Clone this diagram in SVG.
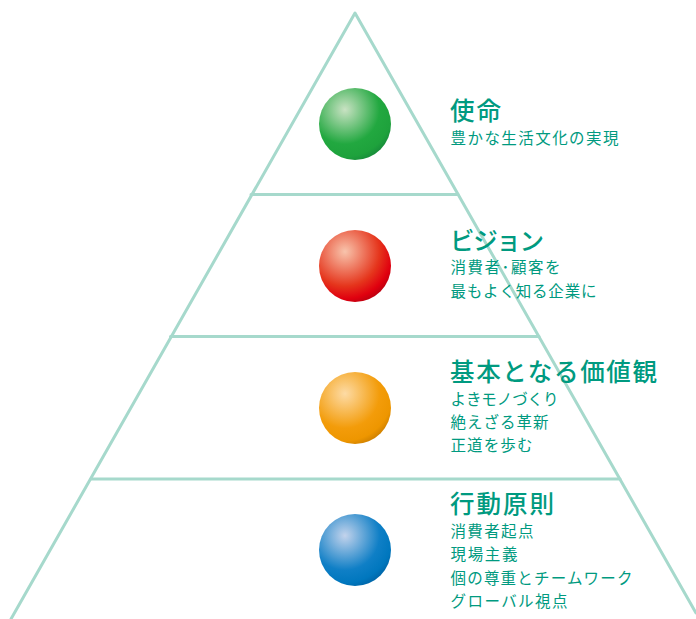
<svg xmlns="http://www.w3.org/2000/svg" width="696" height="619" viewBox="0 0 696 619">
<style>
.ln{fill:none;stroke:#a6d9cc;stroke-width:3;stroke-linecap:round;stroke-linejoin:round}
text{font-family:"Noto Sans CJK JP","Noto Sans",sans-serif;fill:#009a80}
.t{font-size:24.500px;font-weight:500}
.s{font-size:15.500px;font-weight:400}
</style>
<defs>
<radialGradient id="g" cx="0.36" cy="0.3" r="0.8"><stop offset="0" stop-color="#c9e2c3"/><stop offset="0.6" stop-color="#22a840"/><stop offset="0.82" stop-color="#1ea23c"/><stop offset="1" stop-color="#15803a"/></radialGradient>
<radialGradient id="r" cx="0.36" cy="0.3" r="0.8"><stop offset="0" stop-color="#f8c4ac"/><stop offset="0.6" stop-color="#e5351c"/><stop offset="0.82" stop-color="#e0000f"/><stop offset="1" stop-color="#a80010"/></radialGradient>
<radialGradient id="o" cx="0.36" cy="0.3" r="0.8"><stop offset="0" stop-color="#fddba5"/><stop offset="0.6" stop-color="#f39c0a"/><stop offset="0.82" stop-color="#ee9600"/><stop offset="1" stop-color="#bd7400"/></radialGradient>
<radialGradient id="b" cx="0.36" cy="0.3" r="0.8"><stop offset="0" stop-color="#c3d3ec"/><stop offset="0.6" stop-color="#0f7fc6"/><stop offset="0.82" stop-color="#0077be"/><stop offset="1" stop-color="#005c9c"/></radialGradient>
</defs>
<g id="connectors">
<path class="ln" d="M11 619L355 13L696 613"/>
<path class="ln" d="M251 194.500H458M170.500 336.500H539M91 479H620"/>
</g>
<g id="node-mission">
<circle cx="355" cy="124" r="36" fill="url(#g)"/>
<text class="t" x="450" y="119.500" textLength="51">使命</text>
<text class="s" x="450.500" y="143.500" textLength="168">豊かな生活文化の実現</text>
</g>
<g id="node-vision">
<circle cx="355" cy="266" r="36" fill="url(#r)"/>
<text class="t" x="450" y="249.500" textLength="94">ビジョン</text>
<text class="s" x="450.500" y="272.500" textLength="110">消費者･顧客を</text>
<text class="s" x="450.500" y="296.500" textLength="146">最もよく知る企業に</text>
</g>
<g id="node-values">
<circle cx="355" cy="408" r="36" fill="url(#o)"/>
<text class="t" x="450" y="380.500" textLength="207">基本となる価値観</text>
<text class="s" x="450.500" y="404.500" textLength="108">よきモノづくり</text>
<text class="s" x="450.500" y="427.500" textLength="98">絶えざる革新</text>
<text class="s" x="450.500" y="450.500" textLength="82">正道を歩む</text>
</g>
<g id="node-principles">
<circle cx="355" cy="550" r="36" fill="url(#b)"/>
<text class="t" x="450" y="512.500" textLength="104">行動原則</text>
<text class="s" x="450.500" y="536.500" textLength="83">消費者起点</text>
<text class="s" x="450.500" y="559.500" textLength="67">現場主義</text>
<text class="s" x="450.500" y="583.500" textLength="182">個の尊重とチームワーク</text>
<text class="s" x="450.500" y="606.500" textLength="117">グローバル視点</text>
</g>
</svg>
